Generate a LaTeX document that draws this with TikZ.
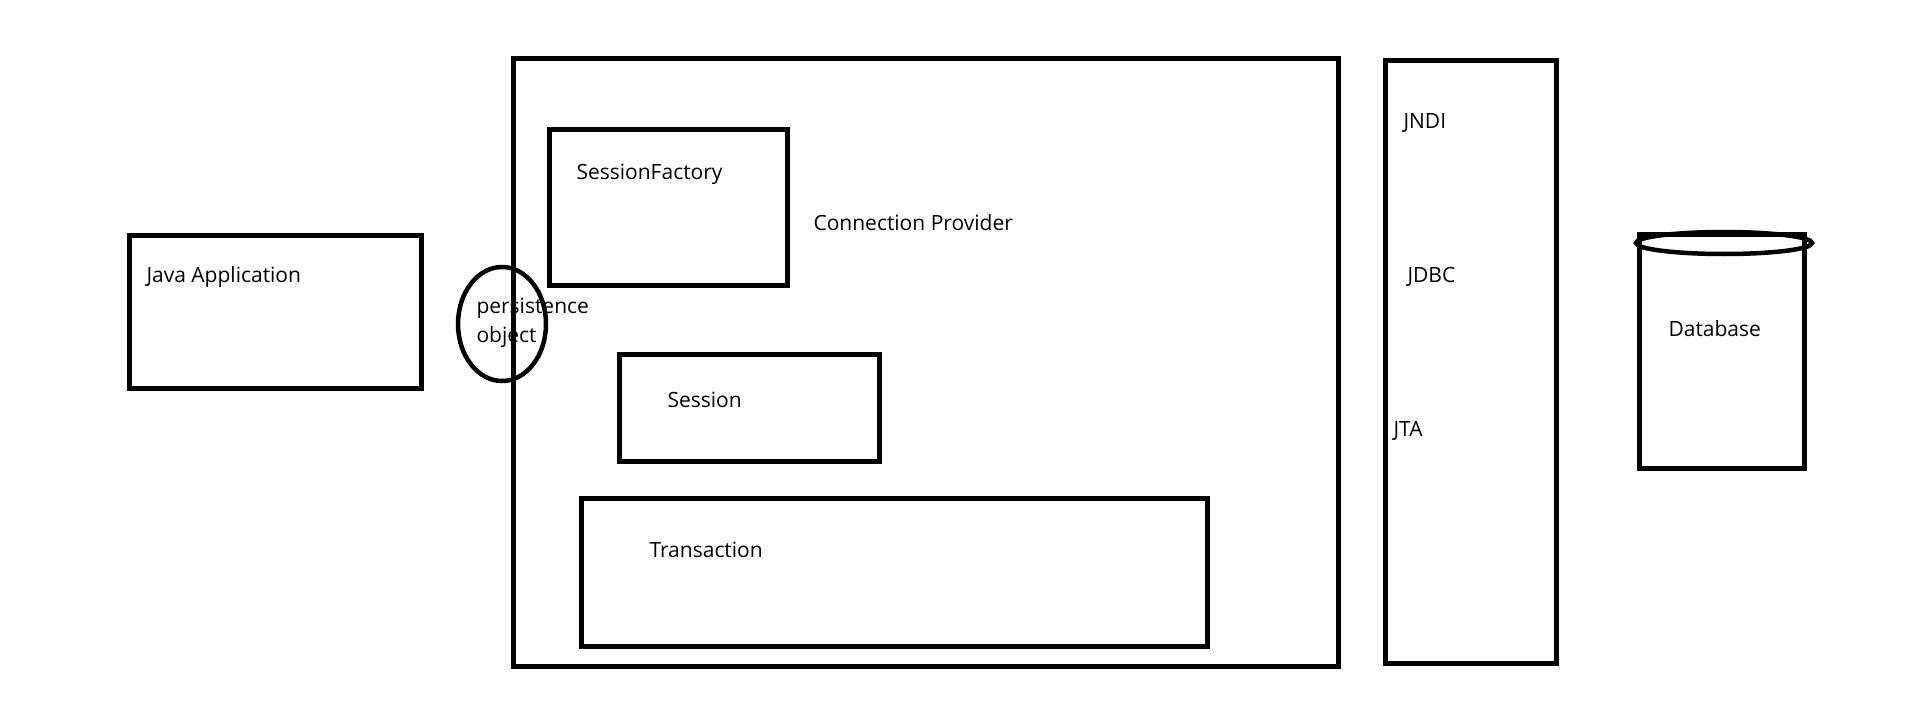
\documentclass[tikz,border=0pt]{standalone}
\usepackage{fontspec}
\setmainfont{Open Sans}
\begin{document}
\begin{tikzpicture}[x=1pt,y=-1pt,line width=5pt]
\tikzset{lbl/.style={anchor=base west,inner sep=0pt,font=\fontsize{21}{25}\selectfont}}

\useasboundingbox (0,0) rectangle (1914,706);

\draw (129,235) rectangle (421,388);
\draw (513,59) rectangle (1338,666);
\draw (549,130) rectangle (787,285);
\draw (619,354) rectangle (879,461);
\draw (581,498) rectangle (1207,646);
\draw (1385,61) rectangle (1556,663);
\draw (1639,234) rectangle (1804,468);
\draw[line width=4.5pt] (1724,243) ellipse [x radius=88, y radius=11];
\draw[line width=4.5pt] (502,324) ellipse [x radius=44, y radius=57];

\node[lbl] (javaapp) at (144,282) {Java Application};
\node[lbl] (sfactory) at (574,179) {SessionFactory};
\node[lbl] (connprov) at (811,230) {Connection Provider};
\node[lbl] (persist) at (474,313) {persistence};
\node[lbl] (pobject) at (474,342) {object};
\node[lbl] (session) at (665,407) {Session};
\node[lbl] (trans) at (647,557) {Transaction};
\node[lbl] (jndi) at (1401,129) {JNDI};
\node[lbl] (jdbc) at (1405,282) {JDBC};
\node[lbl] (jta) at (1391,436) {JTA};
\node[lbl] (dbase) at (1666,336) {Database};

\end{tikzpicture}
\end{document}
